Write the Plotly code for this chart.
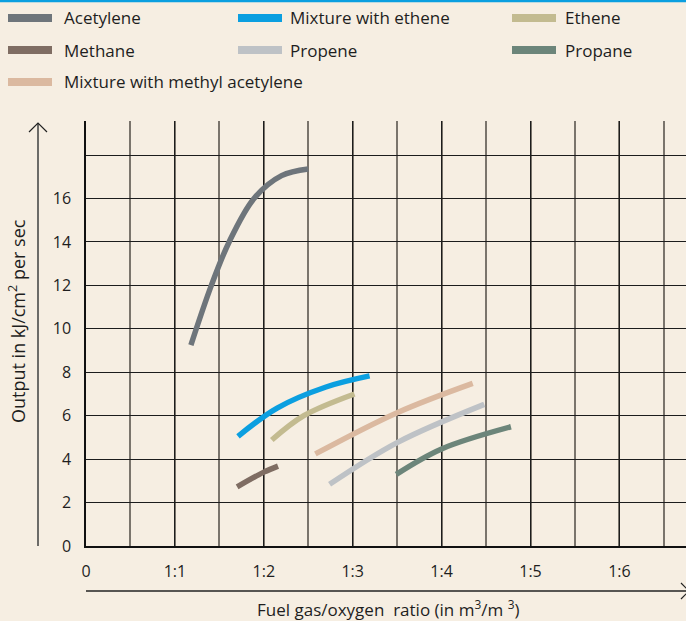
import plotly.graph_objects as go

# ---------------- data ----------------
names = ["Acetylene", "Mixture with ethene", "Ethene", "Methane", "Propene",
         "Propane", "Mixture with methyl acetylene"]
colors = ["#6e757b", "#0b9fe0", "#c3bb90", "#7f6d63", "#bec2c6", "#6c857a", "#dbb9a0"]

acetylene_x = [1.18, 1.41, 1.61, 1.89, 2.20, 2.50]
acetylene_y = [9.25, 12.0, 14.0, 16.0, 17.05, 17.36]
mix_ethene_x = [1.71, 2.15, 2.70, 3.19]
mix_ethene_y = [5.05, 6.35, 7.32, 7.83]
ethene_x = [2.09, 2.45, 3.02]
ethene_y = [4.88, 6.0, 7.0]
methane_x = [1.70, 2.0, 2.16]
methane_y = [2.72, 3.4, 3.68]
propene_x = [2.74, 3.5, 4.48]
propene_y = [2.84, 4.76, 6.52]
propane_x = [3.49, 4.0, 4.78]
propane_y = [3.30, 4.47, 5.49]
mix_methyl_x = [2.58, 3.5, 4.35]
mix_methyl_y = [4.24, 6.14, 7.49]

series_x = [acetylene_x, mix_ethene_x, ethene_x, methane_x, propene_x, propane_x, mix_methyl_x]
series_y = [acetylene_y, mix_ethene_y, ethene_y, methane_y, propene_y, propane_y, mix_methyl_y]

x_tick_vals = [0, 1, 2, 3, 4, 5, 6]
x_tick_text = ["0", "1:1", "1:2", "1:3", "1:4", "1:5", "1:6"]
y_tick_vals = [0, 2, 4, 6, 8, 10, 12, 14, 16, 18]
y_tick_text = ["0", "2", "4", "6", "8", "10", "12", "14", "16", " "]

# ---------------- layout geometry ----------------
W, H = 686, 621
L, R, T, B = 86, 0, 121, 75
PW, PH = W - L - R, H - T - B
BG = "#f6eee2"
TXT = "#1e1e1e"
FONT = "Open Sans"


def px(xp):
    return (xp - L) / PW


def py(yp):
    return (H - B - yp) / PH


fig = go.Figure()
for xs, ys, nm, c in zip(series_x, series_y, names, colors):
    fig.add_trace(go.Scatter(x=xs, y=ys, name=nm, mode="lines",
                             line=dict(color=c, width=5.5, shape="spline", smoothing=1.0),
                             showlegend=False, hoverinfo="skip"))

shapes = []
annotations = []

# top blue rule
shapes.append(dict(type="rect", xref="paper", yref="paper", x0=px(0), x1=px(W),
                   y0=py(0), y1=py(2.2), fillcolor="#0b9fe0", line=dict(width=0)))

# manual legend
legend_pos = [(8, 64, 18), (238, 290, 18), (512, 565, 18),
              (8, 64, 50), (238, 290, 50), (512, 565, 50),
              (8, 64, 82)]
legend_order = [0, 1, 2, 3, 4, 5, 6]
for (sx, tx, ry), idx in zip(legend_pos, legend_order):
    shapes.append(dict(type="rect", xref="paper", yref="paper",
                       x0=px(sx), x1=px(sx + 44), y0=py(ry - 4), y1=py(ry + 4),
                       fillcolor=colors[idx], line=dict(width=0)))
    annotations.append(dict(xref="paper", yref="paper", x=px(tx - 2), y=py(ry),
                            xanchor="left", yanchor="middle", showarrow=False,
                            text=names[idx], font=dict(family=FONT, size=17, color=TXT)))

# y arrow
ac = "#4a4a4a"
shapes.append(dict(type="path", xref="paper", yref="paper",
                   path=f"M {px(38)},{py(546)} L {px(38)},{py(123)}",
                   line=dict(color=ac, width=1.6)))
shapes.append(dict(type="path", xref="paper", yref="paper",
                   path=f"M {px(29)},{py(132)} L {px(38)},{py(123)} L {px(47)},{py(132)}",
                   line=dict(color="#222", width=1.2)))
# x arrow
shapes.append(dict(type="path", xref="paper", yref="paper",
                   path=f"M {px(86)},{py(591)} L {px(690)},{py(591)}",
                   line=dict(color="#222", width=1.3)))
shapes.append(dict(type="path", xref="paper", yref="paper",
                   path=f"M {px(681)},{py(583)} L {px(689)},{py(591)} L {px(681)},{py(599)}",
                   line=dict(color="#222", width=1.2)))

# axis titles
annotations.append(dict(xref="paper", yref="paper", x=px(388), y=py(608),
                        xanchor="center", yanchor="middle", showarrow=False,
                        text="Fuel gas/oxygen\u00a0 ratio (in m<sup>3</sup>/m\u00a0<sup>3</sup>)",
                        font=dict(family=FONT, size=17, color=TXT)))
annotations.append(dict(xref="paper", yref="paper", x=px(17), y=py(321),
                        xanchor="center", yanchor="middle", showarrow=False, textangle=-90,
                        text="Output in kJ/cm<sup>2</sup> per sec",
                        font=dict(family=FONT, size=18, color=TXT)))

fig.update_layout(
    width=W, height=H,
    margin=dict(l=L, r=R, t=T, b=B, pad=0),
    paper_bgcolor=BG, plot_bgcolor=BG,
    showlegend=False,
    shapes=shapes, annotations=annotations,
    xaxis=dict(range=[0, PW / 88.9], tickvals=x_tick_vals, ticktext=x_tick_text,
               showgrid=True, gridcolor="#1c1c1c", gridwidth=1.3,
               minor=dict(dtick=0.5, tick0=0, showgrid=True, gridcolor="#7a746c", gridwidth=1.5),
               zeroline=False, showline=True, linecolor="#111", linewidth=1.5,
               ticks="", ticklabelstandoff=10, fixedrange=True,
               tickfont=dict(family=FONT, size=16, color=TXT)),
    yaxis=dict(range=[0, PH / 21.72], tickvals=y_tick_vals, ticktext=y_tick_text,
               showgrid=True, gridcolor="#1c1c1c", gridwidth=1.3,
               zeroline=False, showline=True, linecolor="#111", linewidth=1.5,
               ticks="", ticklabelstandoff=10, fixedrange=True,
               tickfont=dict(family=FONT, size=16, color=TXT)),
)

fig.write_html("out.html", config={"displayModeBar": False},
               post_script="document.body.style.margin='0px';document.body.style.background='#f6eee2';")
